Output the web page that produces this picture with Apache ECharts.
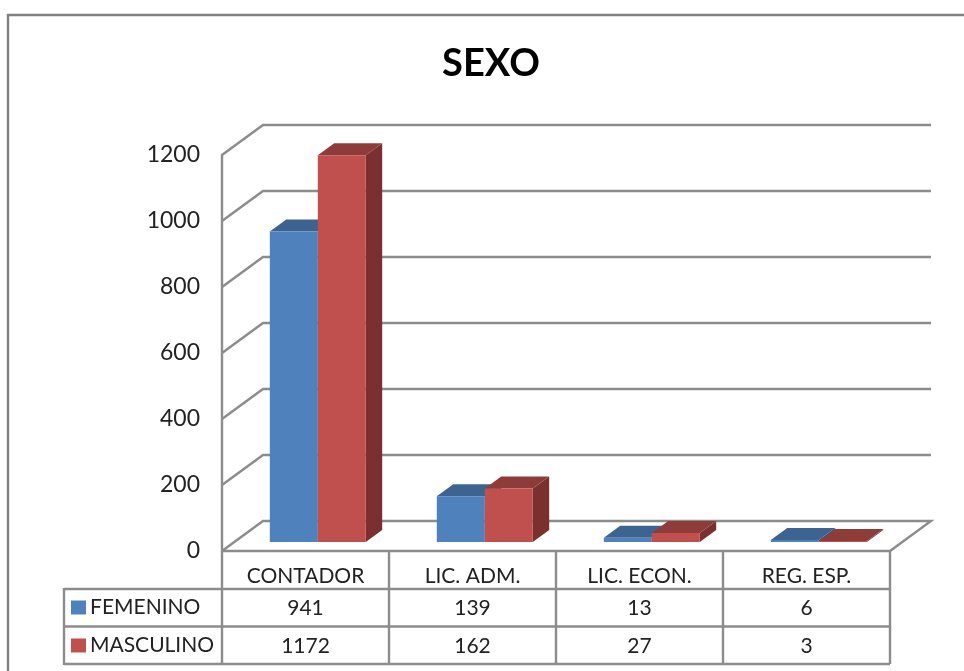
<!DOCTYPE html>
<html><head><meta charset="utf-8">
<style>html,body{margin:0;padding:0;background:#fff}#c{width:964px;height:671px;filter:blur(0.45px)}</style>
<script src="https://cdn.jsdelivr.net/npm/echarts@6/dist/echarts.min.js"></script>
</head><body><div id="c"></div>
<script>
const categories = ['CONTADOR','LIC. ADM.','LIC. ECON.','REG. ESP.'];
const femenino = [941,139,13,6];
const masculino = [1172,162,27,3];
const yTicks = [0,200,400,600,800,1000,1200];

const DX = 41, DY = -30;          // oblique depth of the floor
const BAR_F = 0.3, BAR_B = 0.7;   // bar front/back position within the depth
const BAR_W = 0.2874;             // bar width as share of the category band
const LINE = '#8c8c8c';
const LW = 2.4;
const FONT = 'Lato';
const chart = echarts.init(document.getElementById('c'));

function barSeries(name, values, offset, front, top, side) {
  return {
    name, type: 'custom', coordinateSystem: 'cartesian2d', z: 3,
    itemStyle: { color: front }, clip: false,
    data: values.map((v, i) => [i, v]),
    encode: { x: 0, y: 1 },
    renderItem(params, api) {
      const i = api.value(0), v = api.value(1);
      const base = api.coord([i, 0]), tip = api.coord([i, v]);
      const w = api.size([1, 0])[0] * BAR_W;
      const x0 = base[0] + offset * w + DX * BAR_F;
      const x1 = x0 + w;
      const yb = base[1] + DY * BAR_F, yt = tip[1] + DY * BAR_F;
      const dx = DX * (BAR_B - BAR_F), dy = DY * (BAR_B - BAR_F);
      const poly = (points, fill) => ({ type: 'polygon', shape: { points }, style: { fill } });
      return { type: 'group', children: [
        poly([[x1, yb], [x1 + dx, yb + dy], [x1 + dx, yt + dy], [x1, yt]], side),
        poly([[x0, yt], [x0 + dx, yt + dy], [x1 + dx, yt + dy], [x1, yt]], top),
        { type: 'rect', shape: { x: x0, y: yt, width: w, height: yb - yt }, style: { fill: front } }
      ]};
    }
  };
}

const wallSeries = {
  type: 'custom', coordinateSystem: 'cartesian2d', silent: true, z: 1, clip: false,
  data: yTicks.map(t => [t]), encode: { y: 0 },
  renderItem(params, api) {
    const t = api.value(0);
    const band = api.size([1, 0])[0];
    const l = api.coord([0, t]), r = api.coord([categories.length - 1, t]);
    const xl = l[0] - band / 2, xr = r[0] + band / 2, y = l[1];
    const pts = t === 0
      ? [[xl, y], [xl + DX, y + DY], [xr + DX, y + DY], [xr, y], [xl, y]]
      : [[xl, y], [xl + DX, y + DY], [xr + DX, y + DY]];
    return { type: 'polyline', shape: { points: pts }, style: { stroke: LINE, lineWidth: LW, fill: null } };
  }
};

const ROW1 = 38, ROW2 = 75.5, ROW3 = 113;   // table row lines below the floor
const tableSeries = {
  type: 'custom', coordinateSystem: 'cartesian2d', silent: true, z: 2, clip: false,
  data: categories.map((c, i) => [i, femenino[i], masculino[i]]), encode: { x: 0 },
  renderItem(params, api) {
    const i = api.value(0);
    const band = api.size([1, 0])[0];
    const c = api.coord([i, 0]);
    const xl = c[0] - band / 2, xr = c[0] + band / 2, y0 = c[1];
    const ln = (x1, y1, x2, y2) => ({ type: 'line', shape: { x1, y1, x2, y2 }, style: { stroke: LINE, lineWidth: LW } });
    const tx = (text, y) => ({ type: 'text', style: { text: String(text), x: c[0], y, align: 'center', verticalAlign: 'middle', font: '21px ' + FONT, fill: '#222' } });
    const ch = [
      ln(xr, y0, xr, y0 + ROW3),
      ln(xl, y0 + ROW1, xr, y0 + ROW1), ln(xl, y0 + ROW2, xr, y0 + ROW2), ln(xl, y0 + ROW3, xr, y0 + ROW3),
      tx(api.value(1), y0 + 57), tx(api.value(2), y0 + 95)
    ];
    if (i === 0) {
      const far = xl - 158;
      ch.push(ln(xl, y0, xl, y0 + ROW3), ln(far, y0 + ROW1, xl, y0 + ROW1), ln(far, y0 + ROW2, xl, y0 + ROW2),
              ln(far, y0 + ROW3, xl, y0 + ROW3), ln(far, y0 + ROW1 - 1, far, y0 + ROW3 + 1));
    }
    return { type: 'group', children: ch };
  }
};

chart.setOption({
  animation: false,
  backgroundColor: '#fff',
  title: { text: 'SEXO', left: 486, top: 40, textAlign: 'center',
    textStyle: { fontFamily: FONT, fontWeight: 'bold', fontSize: 38, color: '#000' } },
  legend: { orient: 'vertical', left: 71, top: 597, itemWidth: 15, itemHeight: 14, itemGap: 17, icon: 'rect',
    data: ['FEMENINO', 'MASCULINO'], selectedMode: false,
    textStyle: { fontFamily: FONT, fontSize: 21, color: '#222', padding: [0, 0, 0, -1] }, padding: 0 },
  grid: { left: 222, right: 74, top: 155, bottom: 120, containLabel: false },
  xAxis: { type: 'category', data: categories,
    axisTick: { show: false }, axisLine: { show: false },
    axisLabel: { fontFamily: FONT, fontSize: 21, color: '#222', margin: 15 }, splitLine: { show: false } },
  yAxis: { type: 'value', min: 0, max: 1200, interval: 200,
    axisLine: { show: true, lineStyle: { color: LINE, width: LW } }, axisTick: { show: false },
    axisLabel: { fontFamily: FONT, fontSize: 23, color: '#222', margin: 22, padding: [3, 0, 0, 0], formatter: v => String(v) }, splitLine: { show: false } },
  graphic: [{ type: 'polyline', silent: true, z: -1,
    shape: { points: [[8, 680], [8, 15], [964, 15]] }, style: { stroke: '#808080', lineWidth: 2.4, fill: null } }],
  series: [
    wallSeries, tableSeries,
    barSeries('FEMENINO', femenino, -1, '#4F81BD', '#3D6491', '#335478'),
    barSeries('MASCULINO', masculino, 0, '#C0504D', '#8E3C3A', '#7A302E')
  ]
});
</script></body></html>
